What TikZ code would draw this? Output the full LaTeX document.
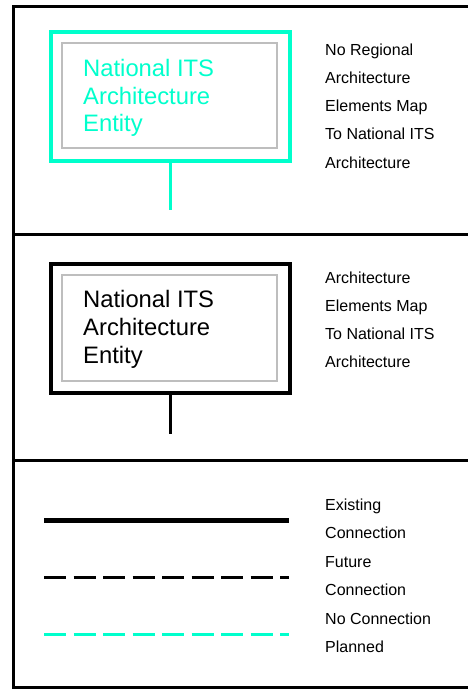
\documentclass[tikz,border=0pt]{standalone}
\usepackage{fontspec}
\setmainfont{Liberation Sans}
\definecolor{itscyan}{RGB}{0,255,204}
\definecolor{itsgray}{RGB}{190,190,190}
\begin{document}
\begin{tikzpicture}[x=1pt,y=-1pt,
  frameline/.style={line width=3pt,black},
  outerbox/.style={draw,rectangle,line width=3.5pt,minimum width=239pt,minimum height=129pt,inner sep=0pt},
  innerbox/.style={draw=itsgray,rectangle,line width=2pt,minimum width=215pt,minimum height=105pt,inner sep=0pt},
  boxtext/.style={anchor=base west,inner sep=0pt,font=\fontsize{23.8}{28}\selectfont},
  sidetext/.style={anchor=base west,inner sep=0pt,font=\fontsize{16}{19}\selectfont},
  stemline/.style={line width=3pt},
  dashline/.style={line width=3pt,dash pattern=on 22pt off 7.5pt}
]
\useasboundingbox (0,0) rectangle (468,689);
% frame
\draw[frameline] (13.5,5) -- (13.5,689);
\draw[frameline] (12,6.5) -- (468,6.5);
\draw[frameline] (12,234.7) -- (468,234.7);
\draw[frameline] (12,460) -- (468,460);
\draw[frameline] (12,687.5) -- (468,687.5);

% panel 1
\node[outerbox,draw=itscyan] (ob1) at (170.5,96.5) {};
\node[innerbox] (ib1) at (169.5,95) {};
\coordinate (s1) at (170.5,210);
\draw[stemline,itscyan] (ob1.south) -- (s1);
\node[boxtext,text=itscyan] (t11) at (83,76) {National ITS};
\node[boxtext,text=itscyan] (t12) at (83,104) {Architecture};
\node[boxtext,text=itscyan] (t13) at (83,131.5) {Entity};
\node[sidetext] (r11) at (325,55) {No Regional};
\node[sidetext] (r12) at (325,83.3) {Architecture};
\node[sidetext] (r13) at (325,111.6) {Elements Map};
\node[sidetext] (r14) at (325,139.9) {To National ITS};
\node[sidetext] (r15) at (325,168.2) {Architecture};

% panel 2
\node[outerbox,draw=black] (ob2) at (170.5,328.5) {};
\node[innerbox,minimum height=106pt] (ib2) at (169.5,328) {};
\coordinate (s2) at (170.5,434);
\draw[stemline,black] (ob2.south) -- (s2);
\node[boxtext] (t21) at (83,307) {National ITS};
\node[boxtext] (t22) at (83,335) {Architecture};
\node[boxtext] (t23) at (83,363) {Entity};
\node[sidetext] (r21) at (325,283.3) {Architecture};
\node[sidetext] (r22) at (325,311.6) {Elements Map};
\node[sidetext] (r23) at (325,339.9) {To National ITS};
\node[sidetext] (r24) at (325,367.5) {Architecture};

% panel 3
\coordinate (a1) at (44,520.5);
\coordinate (a2) at (289,520.5);
\draw[line width=4.7pt,black] (a1) -- (a2);
\coordinate (b1) at (44,577);
\coordinate (b2) at (289,577);
\draw[dashline,black] (b1) -- (b2);
\coordinate (c1) at (44,634);
\coordinate (c2) at (289,634);
\draw[dashline,itscyan] (c1) -- (c2);
\node[sidetext] (r31) at (325,510.5) {Existing};
\node[sidetext] (r32) at (325,538.8) {Connection};
\node[sidetext] (r33) at (325,567.5) {Future};
\node[sidetext] (r34) at (325,595.5) {Connection};
\node[sidetext] (r35) at (325,624) {No Connection};
\node[sidetext] (r36) at (325,652.5) {Planned};
\end{tikzpicture}
\end{document}
